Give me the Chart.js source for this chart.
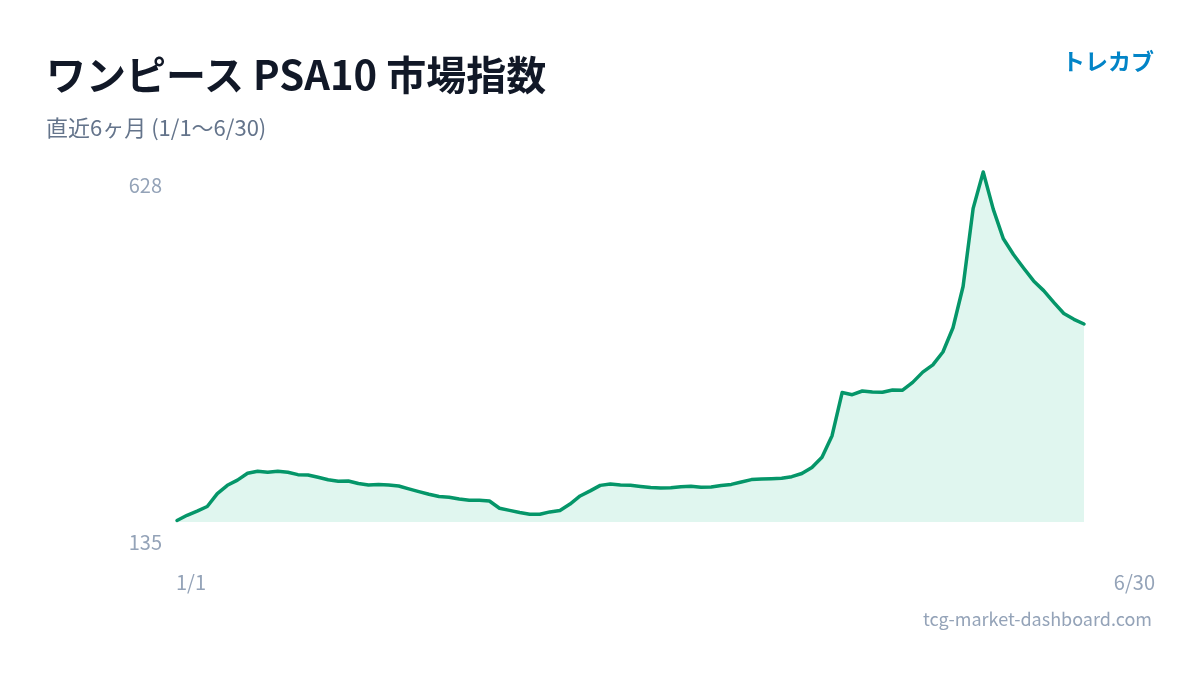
<!DOCTYPE html>
<html lang="ja">
<head>
<meta charset="utf-8">
<script src="https://cdn.jsdelivr.net/npm/chart.js@4/dist/chart.umd.min.js"></script>
<style>
  html, body { margin: 0; padding: 0; background: #ffffff; }
  body { width: 1200px; height: 675px; position: relative; overflow: hidden; font-family: "Noto Sans CJK JP", "Noto Sans", sans-serif; }
  #wrap { position: absolute; left: 0; top: 0; width: 1200px; height: 675px; }
  .t { position: absolute; white-space: nowrap; line-height: 1; }
  #title { left: 46px; top: 53px; font-size: 40px; font-weight: 700; color: #111827; }
  #sub { left: 46px; top: 115px; font-size: 22px; color: #64748b; }
  #brand { right: 46px; top: 49px; font-size: 23px; font-weight: 700; color: #0284c7; }
  .ax { font-size: 20px; color: #94a3b8; }
  #ymax { right: 1038px; top: 175px; }
  #ymin { right: 1038px; top: 532px; }
  #xmin { left: 176px; top: 572px; }
  #xmax { right: 45px; top: 572px; }
  #site { right: 48px; top: 609px; font-size: 18px; color: #94a3b8; }
</style>
</head>
<body>
<div id="wrap"><canvas id="c" width="1200" height="675"></canvas></div>
<div class="t" id="title">ワンピース PSA10 市場指数</div>
<div class="t" id="sub">直近6ヶ月 (1/1〜6/30)</div>
<div class="t" id="brand">トレカブ</div>
<div class="t ax" id="ymax"></div>
<div class="t ax" id="ymin"></div>
<div class="t ax" id="xmin"></div>
<div class="t ax" id="xmax"></div>
<div class="t" id="site">tcg-market-dashboard.com</div>
<script>
// Dates (every 2 days, 1/1 – 6/30)
const dates = [
  "1/1","1/3","1/5","1/7","1/9","1/11","1/13","1/15","1/17","1/19","1/21","1/23","1/25","1/27","1/29","1/31",
  "2/2","2/4","2/6","2/8","2/10","2/12","2/14","2/16","2/18","2/20","2/22","2/24","2/26","2/28",
  "3/2","3/4","3/6","3/8","3/10","3/12","3/14","3/16","3/18","3/20","3/22","3/24","3/26","3/28","3/30",
  "4/1","4/3","4/5","4/7","4/9","4/11","4/13","4/15","4/17","4/19","4/21","4/23","4/25","4/27","4/29",
  "5/1","5/3","5/5","5/7","5/9","5/11","5/13","5/15","5/17","5/19","5/21","5/23","5/25","5/27","5/29","5/31",
  "6/2","6/4","6/6","6/8","6/10","6/12","6/14","6/16","6/18","6/20","6/22","6/24","6/26","6/28","6/30"
];
// Market index values
const indexValues = [
  135, 142.4, 148.3, 154.8, 173.1, 184.8, 192.2, 201.8, 204.7, 203.3, 204.7, 203.2, 199.9, 199.4, 196.1, 192.6,
  190.7, 190.9, 187.3, 185.1, 186.1, 185.2, 183.8, 179.8, 175.9, 172.2, 169, 168, 165.4, 163.6,
  163.6, 162.6, 152.3, 149.3, 146.3, 143.9, 143.8, 147.2, 149.1, 158.3, 169.7, 176.9, 184.7, 186.6, 185.2,
  184.9, 183.2, 181.7, 181, 181.3, 182.8, 183.4, 182.2, 182.5, 184.5, 186.1, 189.5, 192.9, 193.8, 194.1,
  194.7, 197, 201.5, 210.1, 224.5, 255, 316, 313, 318.2, 316.8, 316.4, 319.6, 319.3, 330.4, 344.9, 355.1,
  373.4, 407.7, 466, 576.6, 628, 575.2, 533.5, 511.3, 492.2, 473.9, 460.2, 443.5, 427.8, 419.6, 413
];
// Axis end labels
const yTickLabels = ["628", "135"];
const xTickLabels = ["1/1", "6/30"];

document.getElementById("ymax").textContent = yTickLabels[0];
document.getElementById("ymin").textContent = yTickLabels[1];
document.getElementById("xmin").textContent = xTickLabels[0];
document.getElementById("xmax").textContent = xTickLabels[1];

new Chart(document.getElementById("c"), {
  type: "line",
  data: {
    labels: dates,
    datasets: [{
      data: indexValues,
      borderColor: "#059669",
      backgroundColor: "rgba(16,185,129,0.13)",
      borderWidth: 3.5,
      fill: "start",
      tension: 0,
      pointRadius: 0,
      pointHoverRadius: 0,
      borderJoinStyle: "round",
      borderCapStyle: "round",
      clip: false
    }]
  },
  options: {
    responsive: false,
    animation: false,
    events: [],
    layout: { padding: { left: 177, right: 116, top: 160, bottom: 153 } },
    plugins: { legend: { display: false }, tooltip: { enabled: false }, title: { display: false } },
    scales: {
      x: { display: false, offset: false },
      y: { display: false, min: 132.9, max: 645 }
    }
  }
});
</script>
</body>
</html>
